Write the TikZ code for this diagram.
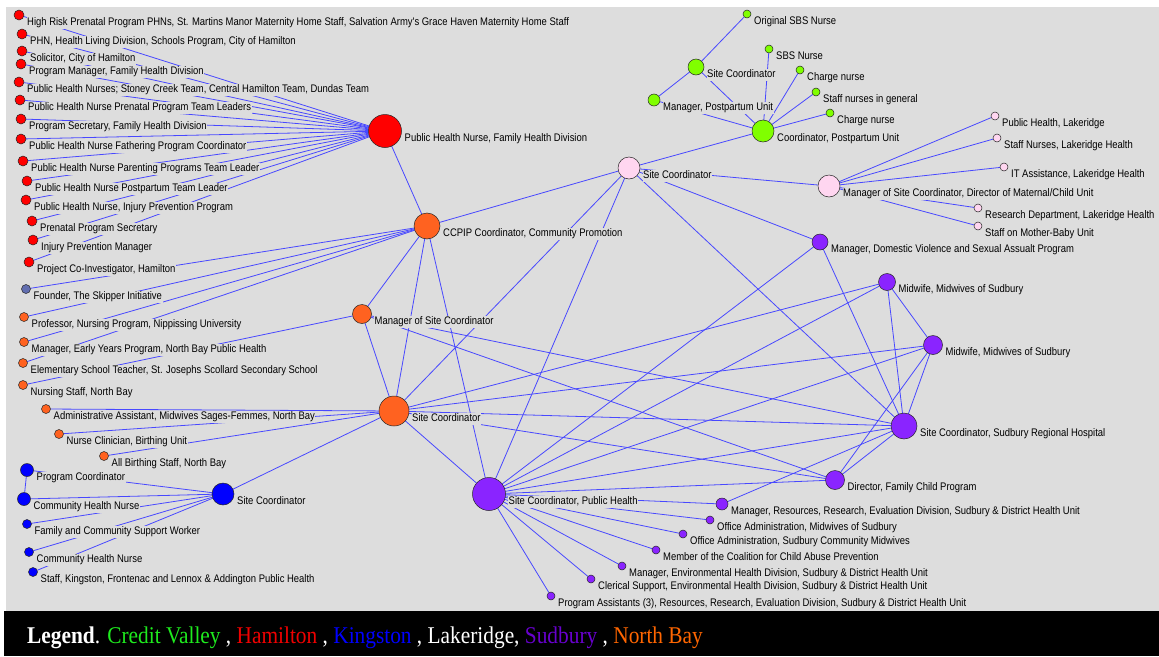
\documentclass[tikz,border=0pt]{standalone}
\usepackage{fontspec}
\usepackage{graphicx}
\newfontfamily\lblfont{Liberation Sans}[FakeStretch=0.86]
\newfontfamily\legfont{Liberation Serif}[FakeStretch=0.89]
\definecolor{bggray}{RGB}{221,221,221}
\definecolor{edgeblue}{RGB}{72,72,255}
\definecolor{hred}{RGB}{255,0,0}
\definecolor{nbor}{RGB}{255,98,32}
\definecolor{kblue}{RGB}{0,0,255}
\definecolor{cvgreen}{RGB}{128,255,0}
\definecolor{lpink}{RGB}{255,214,240}
\definecolor{spurple}{RGB}{138,36,255}
\definecolor{founder}{RGB}{98,110,176}
\definecolor{legGreen}{RGB}{30,235,30}
\definecolor{legRed}{RGB}{240,0,0}
\definecolor{legBlue}{RGB}{0,0,255}
\definecolor{legPurple}{RGB}{104,0,206}
\definecolor{legOrange}{RGB}{255,102,0}
\pgfdeclarelayer{bg}
\pgfsetlayers{bg,main}
\newcommand\pn[6]{%
  \node[lbl] at ({#2+#4+2.5},{#3+8}) {#6};
  \node[dot,minimum size={2*#4},fill=#5] (#1) at (#2,#3) {};}
\begin{document}
\begin{tikzpicture}[x=1pt,y=-1pt,
  dot/.style={circle,draw=black!85,line width=0.5pt,inner sep=0pt,outer sep=0pt},
  lbl/.style={anchor=west,fill=bggray,inner xsep=0.5pt,inner ysep=0.5pt,text height=8pt,text depth=2.3pt,font=\lblfont\fontsize{11}{13}\selectfont},
  edge/.style={draw=edgeblue,line width=0.8pt}]
\useasboundingbox (0,0) rectangle (1159,656);
\begin{pgfonlayer}{bg}
\fill[white] (0,0) rectangle (1159,656);
\fill[bggray] (6,7) rectangle (1159,611);
\fill[black] (4,611) rectangle (1159,656);
\end{pgfonlayer}
% Hamilton
\pn{H0}{385}{131}{16.5}{hred}{Public Health Nurse, Family Health Division}
\pn{h1}{19}{15}{5}{hred}{High Risk Prenatal Program PHNs, St. Martins Manor Maternity Home Staff, Salvation Army's Grace Haven Maternity Home Staff}
\pn{h2}{22}{34}{5}{hred}{PHN, Health Living Division, Schools Program, City of Hamilton}
\pn{h3}{22}{51}{5}{hred}{Solicitor, City of Hamilton}
\pn{h4}{21}{64}{5}{hred}{Program Manager, Family Health Division}
\pn{h5}{19}{82}{5}{hred}{Public Health Nurses; Stoney Creek Team, Central Hamilton Team, Dundas Team}
\pn{h6}{20}{100}{5}{hred}{Public Health Nurse Prenatal Program Team Leaders}
\pn{h7}{21}{119}{5}{hred}{Program Secretary, Family Health Division}
\pn{h8}{21}{139}{5}{hred}{Public Health Nurse Fathering Program Coordinator}
\pn{h9}{23}{161}{5}{hred}{Public Health Nurse Parenting Programs Team Leader}
\pn{h10}{27}{181}{5}{hred}{Public Health Nurse Postpartum Team Leader}
\pn{h11}{26}{200}{5}{hred}{Public Health Nurse, Injury Prevention Program}
\pn{h12}{32}{221}{5}{hred}{Prenatal Program Secretary}
\pn{h13}{33}{240}{5}{hred}{Injury Prevention Manager}
\pn{h14}{29}{262}{5}{hred}{Project Co-Investigator, Hamilton}
\pn{fd}{26}{289}{4.5}{founder}{Founder, The Skipper Initiative}
% North Bay
\pn{Nccpip}{427}{226}{13}{nbor}{CCPIP Coordinator, Community Promotion}
\pn{Nmgr}{362}{314}{9.5}{nbor}{Manager of Site Coordinator}
\pn{Nsite}{394}{411}{15}{nbor}{Site Coordinator}
\pn{n1}{24}{317}{4.5}{nbor}{Professor, Nursing Program, Nippissing University}
\pn{n2}{24}{342}{4.5}{nbor}{Manager, Early Years Program, North Bay Public Health}
\pn{n3}{23}{363}{4.5}{nbor}{Elementary School Teacher, St. Josephs Scollard Secondary School}
\pn{n4}{23}{385}{4.5}{nbor}{Nursing Staff, North Bay}
\pn{n5}{46}{409}{4.5}{nbor}{Administrative Assistant, Midwives Sages-Femmes, North Bay}
\pn{n6}{59}{434}{4.5}{nbor}{Nurse Clinician, Birthing Unit}
\pn{n7}{104}{456}{4.5}{nbor}{All Birthing Staff, North Bay}
% Kingston
\pn{Ksite}{223}{494}{11}{kblue}{Site Coordinator}
\pn{k1}{27}{470}{6.5}{kblue}{Program Coordinator}
\pn{k2}{24}{499}{6.5}{kblue}{Community Health Nurse}
\pn{k3}{27}{524}{4.5}{kblue}{Family and Community Support Worker}
\pn{k4}{29}{552}{4.5}{kblue}{Community Health Nurse}
\pn{k5}{33}{572}{4.5}{kblue}{Staff, Kingston, Frontenac and Lennox \& Addington Public Health}
% Credit Valley
\pn{Gorig}{747}{14}{4}{cvgreen}{Original SBS Nurse}
\pn{Gsite}{696}{67}{8}{cvgreen}{Site Coordinator}
\pn{Gsbs}{769}{49}{4}{cvgreen}{SBS Nurse}
\pn{Gch1}{800}{70}{4}{cvgreen}{Charge nurse}
\pn{Gstaff}{816}{92}{4}{cvgreen}{Staff nurses in general}
\pn{Gmgr}{654}{100}{6}{cvgreen}{Manager, Postpartum Unit}
\pn{Gch2}{830}{113}{4}{cvgreen}{Charge nurse}
\pn{Gcoord}{763}{131}{11}{cvgreen}{Coordinator, Postpartum Unit}
% Lakeridge
\pn{Lsite}{629}{168}{11}{lpink}{Site Coordinator}
\pn{Lmgr}{829}{186}{11}{lpink}{Manager of Site Coordinator, Director of Maternal/Child Unit}
\pn{Lph}{995}{116}{4}{lpink}{Public Health, Lakeridge}
\pn{Lstaff}{997}{138}{4}{lpink}{Staff Nurses, Lakeridge Health}
\pn{Lit}{1004}{167}{4}{lpink}{IT Assistance, Lakeridge Health}
\pn{Lrd}{978}{208}{4}{lpink}{Research Department, Lakeridge Health}
\pn{Lmb}{978}{226}{4}{lpink}{Staff on Mother-Baby Unit}
% Sudbury
\pn{Sdv}{820}{242}{8}{spurple}{Manager, Domestic Violence and Sexual Assualt Program}
\pn{Smw1}{887}{282}{8.5}{spurple}{Midwife, Midwives of Sudbury}
\pn{Smw2}{933}{345}{9.5}{spurple}{Midwife, Midwives of Sudbury}
\pn{Ssite}{904}{426}{13}{spurple}{Site Coordinator, Sudbury Regional Hospital}
\pn{Sdir}{835}{480}{9.5}{spurple}{Director, Family Child Program}
\pn{Sph}{489}{494}{16.5}{spurple}{Site Coordinator, Public Health}
\pn{Sres}{722}{504}{6}{spurple}{Manager, Resources, Research, Evaluation Division, Sudbury \& District Health Unit}
\pn{Soffmw}{710}{520}{4}{spurple}{Office Administration, Midwives of Sudbury}
\pn{Soffc}{683}{534}{4}{spurple}{Office Administration, Sudbury Community Midwives}
\pn{Scoal}{656}{550}{4}{spurple}{Member of the Coalition for Child Abuse Prevention}
\pn{Senv}{622}{566}{4}{spurple}{Manager, Environmental Health Division, Sudbury \& District Health Unit}
\pn{Scler}{591}{579}{4}{spurple}{Clerical Support, Environmental Health Division, Sudbury \& District Health Unit}
\pn{Spa}{551}{596}{4}{spurple}{Program Assistants (3), Resources, Research, Evaluation Division, Sudbury \& District Health Unit}
% Legend
\node[anchor=base west,inner sep=0pt,font=\legfont\fontsize{24}{28}\selectfont] (legend) at (27,643)
  {\textcolor{white}{\textbf{Legend}.} \textcolor{legGreen}{Credit Valley} \textcolor{white}{,} \textcolor{legRed}{Hamilton} \textcolor{white}{,} \textcolor{legBlue}{Kingston} \textcolor{white}{, Lakeridge,} \textcolor{legPurple}{Sudbury} \textcolor{white}{,} \textcolor{legOrange}{North Bay}};
% Edges
\begin{pgfonlayer}{bg}
\foreach \a in {h1,h2,h3,h4,h5,h6,h7,h8,h9,h10,h11,h12,h13,h14,Nccpip} \draw[edge] (\a) -- (H0);
\foreach \a in {fd,n1,n2,n3,Nmgr,Nsite,Sph,Lsite} \draw[edge] (\a) -- (Nccpip);
\draw[edge] (n4) -- (Nmgr);
\foreach \a in {Nsite,Sdir,Ssite} \draw[edge] (Nmgr) -- (\a);
\foreach \a in {n5,n6,n7,Ksite,Lsite,Smw1,Smw2,Ssite,Sdir,Sph} \draw[edge] (Nsite) -- (\a);
\draw[edge] (k1) -- (k2);
\foreach \a in {k1,k2,k3,k4,k5} \draw[edge] (\a) -- (Ksite);
\foreach \a in {Gorig,Gmgr,Gcoord} \draw[edge] (Gsite) -- (\a);
\foreach \a in {Gsbs,Gch1,Gstaff,Gch2,Gmgr,Lsite} \draw[edge] (Gcoord) -- (\a);
\foreach \a in {Lph,Lstaff,Lit,Lrd,Lmb,Lsite} \draw[edge] (Lmgr) -- (\a);
\foreach \a in {Sph,Ssite,Sdv} \draw[edge] (Lsite) -- (\a);
\foreach \a in {Sdv,Smw1,Smw2,Ssite,Sdir,Sres,Soffmw,Soffc,Scoal,Senv,Scler,Spa} \draw[edge] (Sph) -- (\a);
\draw[edge] (Sdv) -- (Ssite);
\draw[edge] (Smw1) -- (Smw2);
\draw[edge] (Smw1) -- (Ssite);
\draw[edge] (Smw2) -- (Ssite);
\draw[edge] (Smw2) -- (Sdir);
\draw[edge] (Sdir) -- (Ssite);
\draw[edge] (Sres) -- (Ssite);
\end{pgfonlayer}
\end{tikzpicture}
\end{document}
